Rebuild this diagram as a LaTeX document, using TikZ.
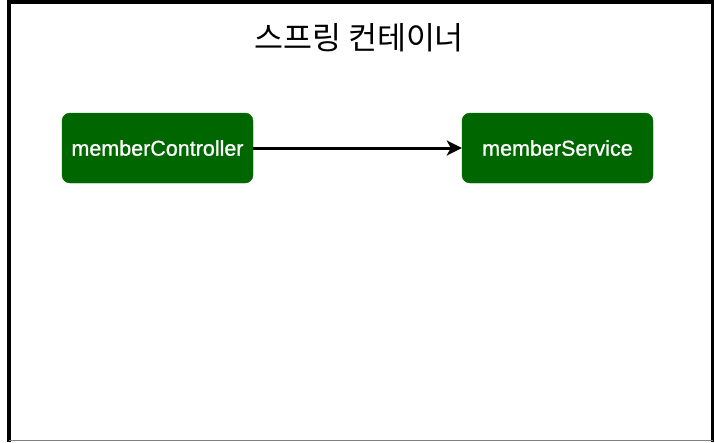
\documentclass[tikz,border=0pt]{standalone}
\usepackage{fontspec}
\setmainfont{Liberation Sans}
\newfontfamily\krfont{Noto Sans CJK KR}
\newfontfamily\boxfont{Liberation Sans}[FakeBold=0.9]
\usetikzlibrary{arrows.meta}
\definecolor{boxgreen}{RGB}{0,102,0}
\tikzset{
  bean/.style={draw=boxgreen, fill=boxgreen, rounded corners=8pt, minimum width=191pt, minimum height=70pt, inner sep=0pt, text=white, font=\boxfont\fontsize{21.5}{26}\selectfont},
  frameline/.style={line width=3.5pt, black},
  dep/.style={line width=3pt, -{Stealth[length=15pt,width=15pt,inset=4pt]}}
}
\begin{document}
\begin{tikzpicture}[x=1pt,y=-1pt]
\useasboundingbox (0,0) rectangle (715,442);
\coordinate (bl) at (9,442);
\coordinate (tl) at (9,1.75);
\coordinate (tr) at (712.5,1.75);
\coordinate (br) at (712.5,442);
\draw[frameline] (bl) -- (tl) -- (tr) -- (br);
\coordinate (bbl) at (9,440.5);
\coordinate (bbr) at (712.5,440.5);
\draw[gray, line width=1pt] (bbl) -- (bbr);
\node[font=\krfont\fontsize{31.5}{36}\selectfont, inner sep=0pt] (title) at (359,38) {스프링 컨테이너};
\node[bean] (ctrl) at (157.5,148) {memberController};
\node[bean] (svc) at (557.5,148) {memberService};
\draw[dep] (ctrl.east) -- (svc.west);
\end{tikzpicture}
\end{document}
